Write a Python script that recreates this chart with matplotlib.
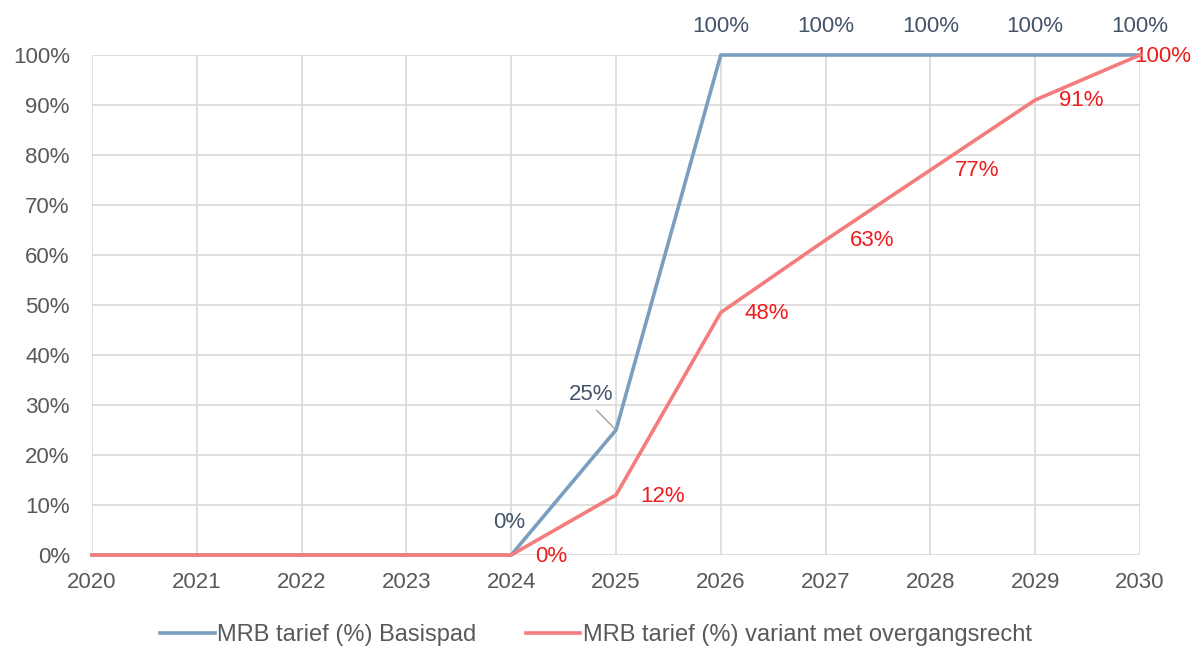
import numpy as np
from matplotlib import pyplot as plt

years = [2020, 2021, 2022, 2023, 2024, 2025, 2026, 2027, 2028, 2029, 2030]
basispad = [0, 0, 0, 0, 0, 25, 100, 100, 100, 100, 100]
overgang = [0, 0, 0, 0, 0, 12, 48.5, 63, 77, 91, 100]
overgang_labels = ['0%', '12%', '48%', '63%', '77%', '91%', '100%']

blue = '#7a9ebf'
blue_txt = '#44546a'
red = '#f47c7c'
red_txt = '#ee1c1c'
fs = 16

plt.rcParams['font.family'] = ['Liberation Sans', 'DejaVu Sans']

fig = plt.figure(figsize=(11.92, 6.48), dpi=100)
ax = fig.add_axes([92 / 1192, 1 - 555 / 648, 1048 / 1192, 500 / 648])

ax.plot(years, basispad, color=blue, lw=2.6, clip_on=False, zorder=3,
        label='MRB tarief (%) Basispad')
ax.plot(years, overgang, color=red, lw=2.6, clip_on=False, zorder=4,
        label='MRB tarief (%) variant met overgangsrecht')

ax.set_xlim(2020, 2030)
ax.set_ylim(0, 100)
ax.set_xticks(years)
ax.set_yticks(np.arange(0, 101, 10))
ax.set_yticklabels([f'{v}%' for v in range(0, 101, 10)])
ax.tick_params(axis='both', length=0, labelsize=fs, colors='#595959')
ax.tick_params(axis='y', pad=16)
ax.tick_params(axis='x', pad=12)
ax.grid(True, color='#d9d9d9', lw=1.2)
ax.set_axisbelow(True)
for s in ax.spines.values():
    s.set_visible(False)

# blue labels
ax.annotate('0%', (2024, 0), xytext=(-2, 33), textcoords='offset pixels',
            ha='center', va='center', fontsize=fs, color=blue_txt)
ax.annotate('25%', (2025, 25), xytext=(-25, 36), textcoords='offset pixels',
            ha='center', va='center', fontsize=fs, color=blue_txt,
            arrowprops=dict(arrowstyle='-', color='#a0a0a0', lw=1,
                            relpos=(0.5, 0), shrinkA=3, shrinkB=1))
for x, v in zip(years[6:], basispad[6:]):
    ax.annotate(f'{v}%', (x, v), xytext=(0, 28), textcoords='offset pixels',
                ha='center', va='center', fontsize=fs, color=blue_txt,
                annotation_clip=False)

# red labels
for x, v, t in zip(years[4:-1], overgang[4:-1], overgang_labels[:-1]):
    ax.annotate(t, (x, v), xytext=(24, -1), textcoords='offset pixels',
                ha='left', va='center', fontsize=fs, color=red_txt,
                annotation_clip=False)
ax.annotate(overgang_labels[-1], (years[-1], overgang[-1]), xytext=(23, -1),
            textcoords='offset pixels', ha='center', va='center', fontsize=fs,
            color=red_txt, annotation_clip=False)

fig.legend(loc='center', bbox_to_anchor=(0.5, 1 - 635 / 648), ncol=2,
           frameon=False, fontsize=17, handlelength=2.3, handletextpad=0.1,
           columnspacing=2.1, labelcolor='#595959')

fig.savefig('out.png', dpi=100)
